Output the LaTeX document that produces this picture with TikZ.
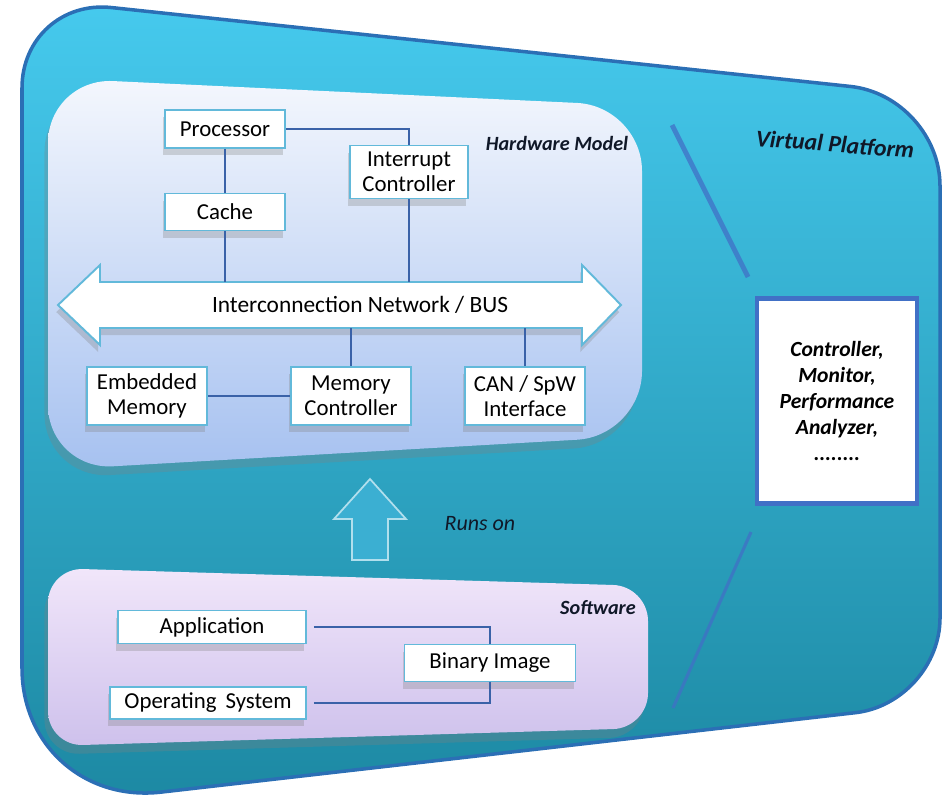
\documentclass[tikz,border=0pt]{standalone}
\usepackage{fontspec}
\setmainfont{Carlito}
\usepackage{tikz}
\usetikzlibrary{shapes,arrows,backgrounds,positioning,fit,shadows}

\definecolor{PlatTop}{HTML}{46CAEE}
\definecolor{PlatBot}{HTML}{1C88A2}
\definecolor{PlatEdge}{HTML}{2B6FB5}
\definecolor{HwTop}{HTML}{F4F7FD}
\definecolor{HwBot}{HTML}{A6C1F0}
\definecolor{SwTop}{HTML}{F1E6FA}
\definecolor{SwBot}{HTML}{CEC1EC}
\definecolor{UnitEdge}{HTML}{62B9DA}
\definecolor{WireBlue}{HTML}{3A62A8}
\definecolor{StrokeBlue}{HTML}{4170C6}
\definecolor{RunsFill}{HTML}{3BAFD2}
\definecolor{InkNavy}{HTML}{101828}

\begin{document}
\begin{tikzpicture}[x=0.02cm, y=-0.02cm]
			\tikzstyle{Unit}	= [rectangle, draw=UnitEdge, line width=1.1pt, fill=white, inner sep=2pt, align=center, text=black, font=\fontsize{13}{14.5}\selectfont, drop shadow={shadow xshift=-1pt, shadow yshift=-4pt, opacity=0.3}]
			\tikzstyle{Wire}	= [line width=1.3pt, WireBlue]
			\tikzstyle{Tag}		= [text=InkNavy, font=\fontsize{11.5}{13}\selectfont\bfseries\itshape]
			\tikzstyle{Deco}	= [line width=2.8pt, StrokeBlue, opacity=0.75]
			
			\useasboundingbox (0,0) rectangle (942,799);
			
			% platform and the two models
			\draw [line width=2pt, draw=PlatEdge, top color=PlatTop, bottom color=PlatBot] (22,400) [rounded corners=1.8cm] -- (22,-2) -- (940,96) [rounded corners=1.7cm] -- (940,703) [rounded corners=2.8cm] -- (22,808) [sharp corners] -- cycle;
			\draw [draw=none, top color=HwTop, bottom color=HwBot, rounded corners=1.3cm, drop shadow={shadow xshift=-2pt, shadow yshift=-5pt, opacity=0.3}] (48,300) -- (48,78) -- (642,106) -- (642,436) -- (48,470) -- cycle;
			\draw [draw=none, top color=SwTop, bottom color=SwBot, rounded corners=0.7cm, drop shadow={shadow xshift=-2pt, shadow yshift=-5pt, opacity=0.3}] (48,650) -- (48,568) -- (648,586) -- (648,728) -- (48,746) -- cycle;
			
			\node [Tag] (hwlabel) at (557,143) {Hardware Model};
			\node [Tag] (swlabel) at (598,608) {Software};
			\node [Tag, font=\fontsize{13.5}{15}\selectfont\bfseries\itshape, rotate=-4.5] (vplabel) at (835,144) {Virtual Platform};
			
			% bus
			\draw [fill=white, draw=UnitEdge, line width=1.1pt, drop shadow={shadow xshift=-1pt, shadow yshift=-4pt, opacity=0.3}] (58,305) -- (100,265) -- (100,282) -- (582,282) -- (582,265) -- (621,305) -- (582,345) -- (582,328) -- (100,328) -- (100,345) -- cycle;
			\node (bus) at (360,305) [minimum width=8cm, minimum height=0.92cm, inner sep=0pt, text=black, font=\fontsize{13.3}{14}\selectfont] {Interconnection Network / BUS};
			
			\node (proc) at (225,129) [Unit, minimum width=2.4cm, minimum height=0.76cm] {Processor};
			\node (intr) at (409,172) [Unit, minimum width=2.36cm, minimum height=1.06cm] {Interrupt\\Controller};
			\node (cache) at (225,212) [Unit, minimum width=2.4cm, minimum height=0.74cm] {Cache};
			\foreach \n/\x/\t in {embmem/147/{Embedded\\Memory}, memctrl/351/{Memory\\Controller}, can/525/{CAN / SpW\\Interface}}
				\node (\n) at (\x, 396) [Unit, minimum width=2.4cm, minimum height=1.16cm] {\t};
			
			\draw [Wire] (proc.east) -| (intr.north);
			\draw [Wire] (proc) -- (cache);
			\draw [Wire] (embmem) -- (memctrl);
			\foreach \n in {cache, intr}
				\draw [Wire] (\n) -- (\n |- bus.north);
			\foreach \n in {memctrl, can}
				\draw [Wire] (\n) -- (\n |- bus.south);
			
			% runs on
			\draw [draw=white!60!RunsFill, line width=1pt, fill=RunsFill] (352,560) -- (352,519) -- (334,519) -- (370,479) -- (406,519) -- (388,519) -- (388,560) -- cycle;
			\node (runs) at (480,524) [text=InkNavy, font=\fontsize{12.5}{14}\selectfont\itshape] {Runs on};
			
			\node (app) at (212,627) [Unit, minimum width=3.76cm, minimum height=0.66cm] {Application};
			\node (bin) at (490,663) [Unit, minimum width=3.42cm, minimum height=0.74cm] {Binary Image};
			\node (os) at (208,703) [Unit, minimum width=3.92cm, minimum height=0.64cm] {Operating\, System};
			\draw [Wire, shorten <=4pt] (app.east) -| (bin.north);
			\draw [Wire, shorten <=4pt] (os.east) -| (bin.south);
			
			% tools
			\node (tools) at (837,401) [draw=StrokeBlue, line width=2.4pt, fill=white, minimum width=3.2cm, minimum height=4.1cm, align=center, text=black, font=\fontsize{12.3}{14.7}\selectfont\bfseries\itshape] {Controller,\\Monitor,\\Performance\\Analyzer,\\........};
			\coordinate (d1) at (672,125);
			\coordinate (d2) at (748,277);
			\coordinate (d3) at (751,532);
			\coordinate (d4) at (673,708);
			\draw [Deco] (d1) -- (d2);
			\draw [Deco, line width=1.8pt] (d3) -- (d4);
		\end{tikzpicture}
\end{document}
